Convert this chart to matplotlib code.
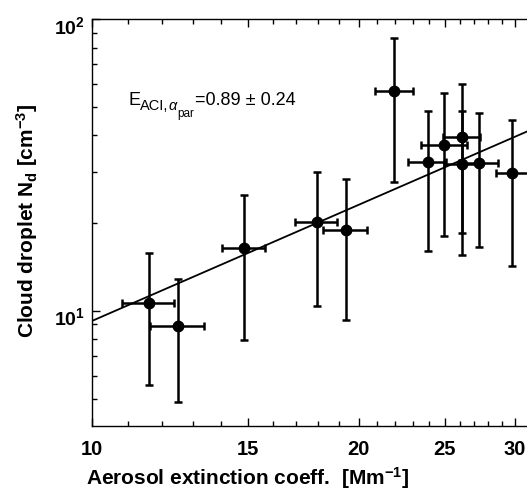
import matplotlib
matplotlib.use("Agg")
import matplotlib.pyplot as plt
from matplotlib.ticker import FixedLocator, FixedFormatter, NullFormatter
from matplotlib.transforms import ScaledTranslation, IdentityTransform

plt.rcParams['font.family'] = ['Liberation Sans', 'DejaVu Sans']
plt.rcParams['mathtext.fontset'] = 'custom'
plt.rcParams['mathtext.rm'] = 'Liberation Sans'
plt.rcParams['mathtext.it'] = 'Liberation Sans:italic'
plt.rcParams['mathtext.bf'] = 'Liberation Sans:bold'

# Data
ext = [11.6, 12.52, 14.86, 17.94, 19.34, 21.93, 23.92, 24.98, 26.17, 26.17, 27.35, 29.8]
ext_err = [0.77, 0.88, 0.82, 0.97, 1.1, 1.07, 1.19, 1.49, 1.25, 1.2, 1.38, 1.26]
nd = [10.66, 8.87, 16.46, 20.22, 18.89, 56.9, 32.3, 37.05, 39.37, 31.9, 32.06, 29.63]
nd_err = [5.1, 4.0, 8.5, 9.8, 9.55, 29.3, 16.25, 19.0, 20.8, 16.4, 15.5, 15.4]

fit_x = [10.0, 31.0]
fit_y = [9.23, 41.3]

x_major = [10, 15, 20, 25, 30]
x_major_labels = ['10', '15', '20', '25', '30']
x_minor = [11, 12, 13, 14, 16, 17, 18, 19, 21, 22, 23, 24, 26, 27, 28, 29]
y_major = [10, 100]
y_major_labels = [r'$\mathbf{10^1}$', r'$\mathbf{10^2}$']

fig = plt.figure(figsize=(5.27, 4.95), dpi=100)
ax = fig.add_axes([91.7/527, 1 - 426/495, 1 - 91.7/527, (426 - 19.3)/495])
ax.set_xscale('log')
ax.set_yscale('log')

ax.plot(fit_x, fit_y, color='black', lw=1.3, zorder=2)
ax.errorbar(ext, nd, xerr=ext_err, yerr=nd_err, fmt='o', color='black',
            ms=7.5, elinewidth=1.8, capsize=2.6, capthick=1.8, zorder=3)

ax.set_xlim(10, 30.96)
ax.set_ylim(4.03, 100)

ax.xaxis.set_major_locator(FixedLocator(x_major))
ax.xaxis.set_major_formatter(FixedFormatter(x_major_labels))
ax.xaxis.set_minor_locator(FixedLocator(x_minor))
ax.xaxis.set_minor_formatter(NullFormatter())
ax.yaxis.set_major_locator(FixedLocator(y_major))
ax.yaxis.set_major_formatter(FixedFormatter(y_major_labels))
ax.yaxis.set_minor_formatter(NullFormatter())

ax.tick_params(which='both', direction='in', top=True, right=False, width=1.0)
ax.tick_params(which='major', length=5.5)
ax.tick_params(which='minor', length=3.5)
ax.tick_params(axis='x', which='major', labelsize=14.5, pad=10)
ax.tick_params(axis='y', which='major', labelsize=14, pad=5)
for lab in ax.get_xticklabels():
    lab.set_fontweight('bold')
for tk in ax.yaxis.get_major_ticks():
    tk.label1.set_transform(tk.label1.get_transform() +
                            ScaledTranslation(0, -4 / 72, fig.dpi_scale_trans))
ax.spines['right'].set_visible(False)
for s in ['left', 'top', 'bottom']:
    ax.spines[s].set_linewidth(1.0)

ax.set_xlabel(r'Aerosol extinction coeff.  [Mm$\mathbf{^{-1}}$]', fontsize=15, fontweight='bold')
ax.xaxis.set_label_coords((247.5 - 91.7) / 435.3, (426 - 478) / 406.7)
ax.xaxis.label.set_va('center')
ax.set_ylabel(r'Cloud droplet $\mathbf{N_d}$ [cm$\mathbf{^{-3}}$]', fontsize=15, fontweight='bold')
ax.yaxis.set_label_coords((27.5 - 91.7) / 435.3, (426 - 220.5) / 406.7)
ax.yaxis.label.set_va('center')

# Annotation built from pieces so subscripts match the reference proportions
renderer = fig.canvas.get_renderer()
x0, y0 = ax.transData.transform((11.0, 50.8))
pieces = [('E', 13, 0, 'normal'),
          ('ACI,', 10.5, 5, 'normal'),
          ('α', 10.5, 5, 'italic'),
          ('par', 8.5, 12, 'normal'),
          ('=0.89 ± 0.24', 13, 0, 'normal')]
cur = x0
for s, fs, dy, style in pieces:
    t = fig.text(cur, y0 - dy, s, fontsize=fs, fontstyle=style,
                 transform=IdentityTransform(), va='baseline', ha='left')
    bb = t.get_window_extent(renderer)
    cur = bb.x1 + (0.5 if s == 'par' else 0)

fig.savefig('out.png', dpi=100)
